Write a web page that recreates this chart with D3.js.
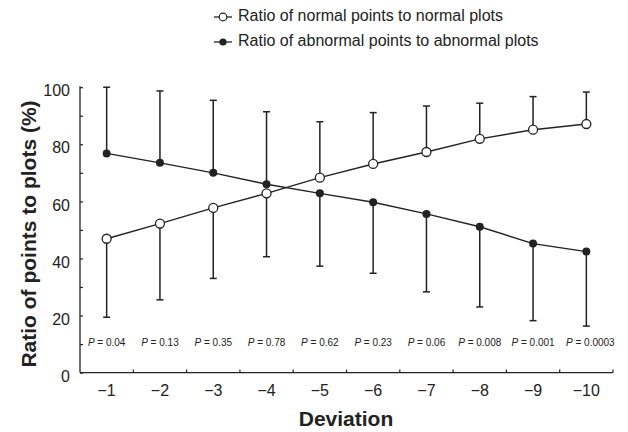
<!DOCTYPE html>
<html><head><meta charset="utf-8">
<script src="https://cdn.jsdelivr.net/npm/d3@7"></script>
<style>
body{margin:0;background:#fff;}
text{font-family:"Liberation Sans",Arial,Helvetica,sans-serif;fill:#222;}
</style></head>
<body><svg id="c" width="628" height="432"></svg>
<script>
const categories = ["−1","−2","−3","−4","−5","−6","−7","−8","−9","−10"];
const normalMean = [46.9, 52.2, 57.7, 62.8, 68.3, 73.1, 77.3, 81.9, 85.1, 87.1];
const normalSD   = [27.5, 26.7, 24.7, 22.2, 19.6, 18.0, 16.1, 12.5, 11.6, 11.2];
const abnormalMean = [76.8, 73.5, 70.0, 66.0, 62.8, 59.7, 55.6, 51.1, 45.2, 42.4];
const abnormalSD   = [23.2, 25.2, 25.4, 25.4, 25.5, 24.9, 27.3, 28.1, 27.0, 26.1];
const pValues = ["0.04","0.13","0.35","0.78","0.62","0.23","0.06","0.008","0.001","0.0003"];
const yTicks = [0,20,40,60,80,100];
const legendLabels = ["Ratio of normal points to normal plots","Ratio of abnormal points to abnormal plots"];

const svg = d3.select("#c");
const L=80, R=613, T=87.2, B=372.6;
const x = d3.scaleBand().domain(categories).range([L,R]).padding(0);
const y = d3.scaleLinear().domain([0,100]).range([B,T]);
const cx = c => x(c)+x.bandwidth()/2;
const ink="#222";

// axes
const gy = svg.append("g").attr("transform",`translate(${L},0)`)
  .call(d3.axisRight(y).tickValues(d3.range(0,101,10)).tickSize(3).tickFormat(""));
gy.select(".domain").attr("d",`M0,${B}V${T-1}`).attr("stroke",ink).attr("stroke-width",1.3);
gy.selectAll(".tick line").attr("stroke",ink).attr("stroke-width",1.2);
svg.append("g").selectAll("text").data(yTicks).join("text")
  .attr("x",70).attr("y",d=>y(d)+5).attr("text-anchor","end").attr("dominant-baseline","middle")
  .attr("font-size",16).text(d=>d);

const gx = svg.append("g").attr("transform",`translate(0,${B})`)
  .call(d3.axisTop(x).tickSize(0).tickFormat(""));
gx.select(".domain").attr("d",`M${L},0H${R}`).attr("stroke",ink).attr("stroke-width",1.3);
gx.selectAll(".tick").remove();
gx.selectAll("line.bd").data(categories).join("line").attr("class","bd")
  .attr("x1",d=>x(d)+x.bandwidth()).attr("x2",d=>x(d)+x.bandwidth())
  .attr("y1",0).attr("y2",-3).attr("stroke",ink).attr("stroke-width",1.2);
svg.append("g").selectAll("text").data(categories).join("text")
  .attr("x",d=>cx(d)).attr("y",392).attr("text-anchor","middle").attr("dominant-baseline","middle")
  .attr("font-size",16).text(d=>d);

svg.append("text").attr("x",346).attr("y",420).attr("text-anchor","middle")
  .attr("dominant-baseline","middle").attr("font-size",21).attr("font-weight","bold").text("Deviation");
svg.append("text").attr("transform",`translate(30,234) rotate(-90)`).attr("text-anchor","middle")
  .attr("dominant-baseline","middle").attr("font-size",21).attr("font-weight","bold")
  .text("Ratio of points to plots (%)");

// error bars
function errBars(mean, sd, other){
  const g = svg.append("g");
  categories.forEach((c,i)=>{
    const dir = mean[i] >= other[i] ? 1 : -1;
    const end = mean[i] + dir*sd[i];
    g.append("line").attr("x1",cx(c)).attr("x2",cx(c)).attr("y1",y(mean[i])).attr("y2",y(end))
      .attr("stroke",ink).attr("stroke-width",1.5);
    g.append("line").attr("x1",cx(c)-3.5).attr("x2",cx(c)+3.5).attr("y1",y(end)).attr("y2",y(end))
      .attr("stroke",ink).attr("stroke-width",1.5);
  });
}
errBars(normalMean, normalSD, abnormalMean);
errBars(abnormalMean, abnormalSD, normalMean);

const line = d3.line().x((d,i)=>cx(categories[i])).y(d=>y(d));
[abnormalMean, normalMean].forEach(m=>{
  svg.append("path").attr("d",line(m)).attr("fill","none").attr("stroke",ink).attr("stroke-width",1.4);
});
svg.append("g").selectAll("circle").data(abnormalMean).join("circle")
  .attr("cx",(d,i)=>cx(categories[i])).attr("cy",d=>y(d)).attr("r",4).attr("fill",ink);
svg.append("g").selectAll("circle").data(normalMean).join("circle")
  .attr("cx",(d,i)=>cx(categories[i])).attr("cy",d=>y(d)).attr("r",4.5).attr("fill","#fff")
  .attr("stroke",ink).attr("stroke-width",1.3);

// p values
const pt = svg.append("g").selectAll("text").data(pValues).join("text")
  .attr("x",(d,i)=>cx(categories[i])+(i===9?4:0)).attr("y",343).attr("text-anchor","middle")
  .attr("dominant-baseline","middle").attr("font-size",10);
pt.append("tspan").attr("font-style","italic").text("P");
pt.append("tspan").text(d=>" = "+d);

// legend
legendLabels.forEach((t,i)=>{
  const ly = 17 + i*25;
  svg.append("line").attr("x1",214).attr("x2",232).attr("y1",ly).attr("y2",ly).attr("stroke",ink).attr("stroke-width",1.3);
  if(i===0) svg.append("circle").attr("cx",223).attr("cy",ly).attr("r",3.8).attr("fill","#fff").attr("stroke",ink).attr("stroke-width",1.2);
  else svg.append("circle").attr("cx",223).attr("cy",ly).attr("r",3.6).attr("fill",ink);
  svg.append("text").attr("x",238).attr("y",ly).attr("dominant-baseline","middle").attr("font-size",16).text(t);
});
</script></body></html>
